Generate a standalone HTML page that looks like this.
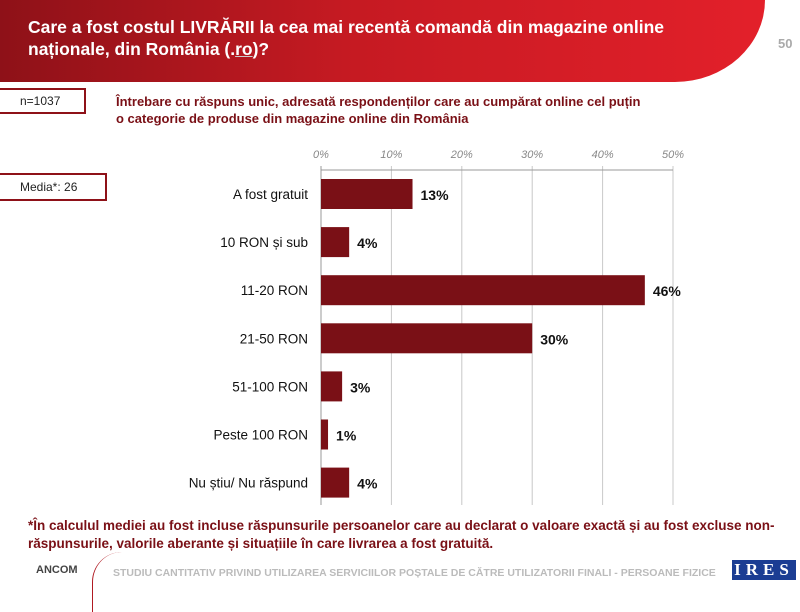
<!DOCTYPE html>
<html><head><meta charset="utf-8"><style>
body{margin:0;width:800px;height:597px;background:#fff;position:relative;overflow:hidden;font-family:"Liberation Sans",sans-serif}
.abs{position:absolute}
#header{left:0;top:0;width:765px;height:82px;background:linear-gradient(90deg,#8e1118 0%,#c51a22 45%,#e3202a 100%);border-radius:0 0 90px 0 / 0 0 82px 0}
#title{left:28px;top:16px;color:#fff;font-size:17.5px;font-weight:bold;line-height:22px}
.box{border:2px solid #8e1118;border-left:none;font-size:12px;color:#222;box-sizing:border-box;padding-left:20px}
.dred{color:#7a1016;font-weight:bold}
</style></head><body>
<div id="header" class="abs"></div>
<div id="title" class="abs">Care a fost costul LIVRĂRII la cea mai recentă comandă din magazine online<br>naționale, din România (.<u style="text-decoration-color:#ccc">ro</u>)?</div>
<div class="abs" style="left:778px;top:36px;color:#aaa;font-size:13px;font-weight:bold">50</div>
<div class="abs box" style="left:0;top:88px;width:86px;height:26px;line-height:22px">n=1037</div>
<div class="abs dred" style="left:116px;top:93px;font-size:13px;line-height:17px">Întrebare cu răspuns unic, adresată respondenților care au cumpărat online cel puțin<br>o categorie de produse din magazine online din România</div>
<div class="abs box" style="left:0;top:173px;width:107px;height:28px;line-height:24px">Media*: 26</div>
<svg class="abs" style="left:0;top:0" width="800" height="597" id="chart"></svg>
<div class="abs dred" style="left:28px;top:517px;font-size:13.5px;line-height:18px">*În calculul mediei au fost incluse răspunsurile persoanelor care au declarat o valoare exactă și au fost excluse non-<br>răspunsurile, valorile aberante și situațiile în care livrarea a fost gratuită.</div>
<div class="abs" style="left:36px;top:564px;font-size:11px;font-weight:bold;color:#444">ANCOM</div>
<div class="abs" style="left:92px;top:552px;width:30px;height:60px;border-left:1.5px solid #b01a22;border-radius:30px 0 0 0"></div>
<div class="abs" style="left:113px;top:567px;font-size:10.5px;color:#bbb;font-weight:bold">STUDIU CANTITATIV PRIVIND UTILIZAREA SERVICIILOR POȘTALE DE CĂTRE UTILIZATORII FINALI - PERSOANE FIZICE</div>
<div class="abs" style="left:732px;top:560px;width:64px;height:20px;background:#1b3d93;color:#fff;font-family:'Liberation Serif',serif;font-size:17px;font-weight:bold;letter-spacing:5px;text-align:center;line-height:20px">IRES</div>
<script>
const categories=["A fost gratuit","10 RON și sub","11-20 RON","21-50 RON","51-100 RON","Peste 100 RON","Nu știu/ Nu răspund"];
const values=[13,4,46,30,3,1,4];
const ticks=[0,10,20,30,40,50];
const ns="http://www.w3.org/2000/svg";
const svg=document.getElementById('chart');
const x=v=>321+v*(673-321)/50;
const y=i=>194+i*48.1;
function mk(t,a){const e=document.createElementNS(ns,t);for(const k in a)e.setAttribute(k,a[k]);svg.appendChild(e);return e;}
ticks.forEach(t=>{
  const g=mk('line',{x1:x(t),x2:x(t),y1:166,y2:505,stroke:'#c8c8c8','stroke-width':1});
  
  
  const l=mk('text',{x:x(t),y:158,'text-anchor':'middle','font-size':11,'font-style':'italic',fill:'#888','font-family':'Liberation Sans,sans-serif'});
  l.textContent=t+'%';
  
  
});
const ax=mk('line',{x1:321,x2:673,y1:170,y2:170,stroke:'#999'});


const ay=mk('line',{x1:321,x2:321,y1:166,y2:505,stroke:'#999'});


categories.forEach((c,i)=>{
  const b=mk('rect',{x:x(0),y:y(i)-15,width:x(values[i])-x(0),height:30,fill:'#7a1016'});
  
  
  const t=mk('text',{x:308,y:y(i)+5,'text-anchor':'end','font-size':13.5,fill:'#111','font-family':'Liberation Sans,sans-serif'});
  t.textContent=c;
  
  
  const v=mk('text',{x:x(values[i])+8,y:y(i)+6,'font-size':14,'font-weight':'bold',fill:'#111','font-family':'Liberation Sans,sans-serif'});
  v.textContent=values[i]+'%';
  
  
});
</script>
</body></html>
